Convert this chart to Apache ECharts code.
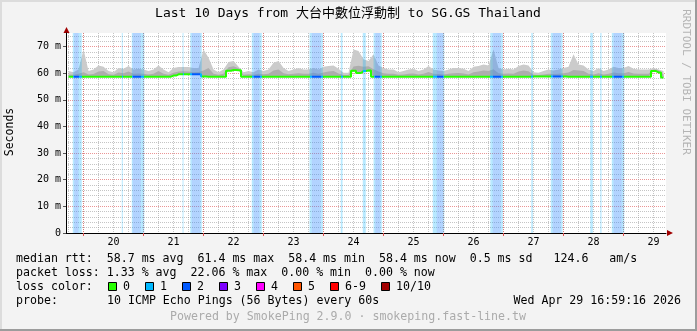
<!DOCTYPE html>
<html><head><meta charset="utf-8">
<script src="https://cdn.jsdelivr.net/npm/echarts@6/dist/echarts.min.js"></script>
<style>html,body{margin:0;padding:0;background:#f3f3f3}#c{width:697px;height:331px}</style>
</head><body><div id="c"></div>
<script>
// ---------- data ----------
const titleText = 'Last 10 Days from 大台中數位浮動制 to SG.GS Thailand';
const startHour = 16.988;          // Apr 19 16:59:16, hours since Apr 19 00:00
const endHour = 256.988;           // Apr 29 16:59:16
const sampleStart = 18;            // first 2-hour sample centre
const sampleStep = 2;
const dayLabelHours = [36, 60, 84, 108, 132, 156, 180, 204, 228, 252];
const dayLabels = ['20', '21', '22', '23', '24', '25', '26', '27', '28', '29'];
const midnightHours = [24, 48, 72, 96, 120, 144, 168, 192, 216, 240];
const sixHourHours = [18, 24, 30, 36, 42, 48, 54, 60, 66, 72, 78, 84, 90, 96, 102, 108, 114, 120, 126, 132, 138, 144, 150, 156, 162, 168, 174, 180, 186, 192, 198, 204, 210, 216, 222, 228, 234, 240, 246, 252];
const yMajorTicks = [0, 10, 20, 30, 40, 50, 60, 70];
const yMajorGrid = [10, 20, 30, 40, 50, 60, 70];
const yMinorGrid = [2, 4, 6, 8, 12, 14, 16, 18, 22, 24, 26, 28, 32, 34, 36, 38, 42, 44, 46, 48, 52, 54, 56, 58, 62, 64, 66, 68, 72, 74];
const yMax = 75.1;

// median RTT (ms), one value per 2 hours
const medianRtt = [
  58.7,58.7,58.7,58.7,58.7,58.7,58.7,58.7,58.7,58.7,58.7,58.7,58.7,58.7,58.7,58.7,58.7,58.7,58.7,58.7,
  58.7,59.1,59.6,59.6,59.6,59.6,59.6,58.8,58.7,58.7,58.7,58.7,60.9,61.2,61.1,58.7,58.7,58.7,58.7,58.7,
  58.7,58.7,58.7,58.7,58.7,58.7,58.7,58.7,58.7,58.7,58.7,58.7,58.7,58.7,58.7,58.7,58.7,60.9,60.1,60.8,
  61.0,58.7,58.7,58.7,58.7,58.7,58.7,58.7,58.7,58.7,58.7,58.7,58.7,58.7,58.7,58.7,58.7,58.7,58.7,58.7,
  58.7,58.7,58.7,58.7,58.7,58.7,58.7,58.7,58.7,58.7,58.7,58.7,58.7,58.8,58.8,58.8,58.8,58.8,58.8,58.8,
  58.7,58.7,58.7,58.7,58.7,58.7,58.7,58.7,58.7,58.7,58.7,58.7,58.7,58.7,58.7,58.7,58.7,60.8,60.3,58.4
];
// upper edge of the darker smoke (ms)
const smokeMid = [
  59.5,59.4,59.8,60.4,59.5,59.7,60.6,60.8,59.6,59.4,60.3,60.0,60.6,59.8,59.9,59.8,59.5,59.8,60.8,59.8,
  59.4,60.2,60.6,60.7,60.6,60.4,60.5,61.0,62.0,59.8,59.4,59.8,62.2,62.6,61.9,59.4,59.6,59.4,59.8,59.6,
  59.8,61.0,61.4,60.0,59.6,59.8,60.0,59.8,59.8,60.2,59.8,60.3,60.6,60.8,59.9,59.3,59.3,62.5,62.8,62.4,
  62.6,61.5,60.6,60.0,59.8,59.8,59.4,59.5,59.8,59.9,59.5,59.8,60.5,59.8,59.7,59.5,59.8,60.0,60.1,59.9,
  59.5,60.4,60.6,61.0,60.8,61.5,60.0,59.8,59.9,59.8,60.6,61.0,60.7,59.4,59.3,59.5,59.8,59.7,59.8,60.0,
  60.3,61.2,61.0,60.8,59.8,59.5,60.0,59.5,59.8,60.3,60.0,60.0,60.5,59.9,59.8,59.8,59.8,61.4,61.2,59.5
];
// max ping (top of smoke, ms)
const smokeMax = [
  60.8,60.4,61.4,68.9,60.8,61.4,62.9,62.4,60.8,60.4,62.0,61.7,62.7,61.4,61.7,61.4,60.8,61.4,62.9,61.4,
  60.4,62.0,62.3,62.3,62.3,62.0,62.0,68.9,65.8,61.4,60.4,61.4,64.2,64.6,62.4,60.4,60.8,60.4,61.4,60.8,
  61.4,63.9,64.6,62.0,60.8,61.4,62.0,61.4,61.4,62.0,61.4,62.4,62.7,62.9,61.7,60.2,60.2,68.9,68.3,65.2,
  64.6,67.1,62.9,62.0,61.4,61.4,60.4,60.8,61.4,61.7,60.8,61.4,62.7,61.4,61.0,60.8,61.4,62.0,62.0,61.7,
  60.8,62.4,62.7,63.3,62.9,68.9,62.0,61.4,61.7,61.4,62.7,63.3,62.9,60.4,60.2,60.8,61.4,61.0,61.4,62.0,
  62.4,67.1,63.3,62.9,61.4,60.8,62.0,60.8,61.4,62.4,62.0,62.0,62.7,61.7,61.4,61.4,61.4,62.0,61.4,60.8
];
// packet-loss periods (hours since Apr 19 00:00): light = 1 lost, strong = 2 lost
const lossLight = [
  [19.7,23.3],[39.3,39.7],[43.3,48.3],[63.6,64.0],[66.7,71.3],[91.3,95.3],[114.4,119.7],[126.9,127.6],
  [135.7,136.9],[140.0,143.3],[163.7,168.3],[186.7,191.7],[203.1,203.7],[210.9,215.6],[226.7,227.7],
  [230.7,231.2],[235.3,240.3]
];
const lossStrong = [
  [20.3,22.0],[43.7,46.9],[67.3,70.7],[92.0,94.4],[115.3,118.9],[140.7,142.7],[165.3,167.7],
  [187.7,190.9],[211.7,214.9],[236.0,239.3]
];
const lossLegend = [
  ['0', '#26ff00'], ['1', '#00b8ff'], ['2', '#0059ff'], ['3', '#7e00ff'],
  ['4', '#ff00ff'], ['5', '#ff5500'], ['6-9', '#ff0000'], ['10/10', '#a10000']
];
const statRtt = 'median rtt:  58.7 ms avg  61.4 ms max  58.4 ms min  58.4 ms now  0.5 ms sd   124.6   am/s';
const statLoss = 'packet loss: 1.33 % avg  22.06 % max  0.00 % min  0.00 % now';
const probeText = '10 ICMP Echo Pings (56 Bytes) every 60s';
const dateText = 'Wed Apr 29 16:59:16 2026';
const footerText = 'Powered by SmokePing 2.9.0 · smokeping.fast-line.tw';
const sideText = 'RRDTOOL / TOBI OETIKER';

// ---------- chart ----------
const MONO = '"DejaVu Sans Mono", "Noto Sans CJK TC", monospace';
const LF = '11.6px ' + MONO;
const xs = medianRtt.map((_, i) => sampleStart + i * sampleStep);
const medianPts = medianRtt.map((v, i) => [xs[i], v]);

// colour pieces for the median line along time
const pieces = [];
let cur = startHour - 1;
lossLight.forEach(([s, e]) => {
  pieces.push({ gte: cur, lt: s, color: '#26ff00' });
  let c = s;
  lossStrong.filter(([a, b]) => a >= s && b <= e).forEach(([a, b]) => {
    pieces.push({ gte: c, lt: a, color: '#00b8ff' });
    pieces.push({ gte: a, lt: b, color: '#0059ff' });
    c = b;
  });
  pieces.push({ gte: c, lt: e, color: '#00b8ff' });
  cur = e;
});
pieces.push({ gte: cur, lt: endHour + 10, color: '#26ff00' });

function bandRender(color) {
  return function (params, api) {
    const p0 = api.coord([api.value(0), yMax]);
    const p1 = api.coord([api.value(1), 0]);
    return {
      type: 'rect',
      shape: { x: p0[0], y: p0[1], width: Math.max(p1[0] - p0[0], 1), height: p1[1] - p0[1] },
      style: { fill: color }
    };
  };
}
function smokeRender(lower, upper, color) {
  return function (params, api) {
    const pts = [];
    for (let i = 0; i < xs.length; i++) pts.push(api.coord([xs[i], upper[i]]));
    for (let i = xs.length - 1; i >= 0; i--) pts.push(api.coord([xs[i], lower[i]]));
    return { type: 'polygon', shape: { points: pts }, style: { fill: color } };
  };
}

const hiddenX = (extra) => Object.assign({
  type: 'value', min: startHour, max: endHour, gridIndex: 0,
  axisLine: { show: false }, axisLabel: { show: false }
}, extra);
const hiddenY = (extra) => Object.assign({
  type: 'value', min: 0, max: yMax, gridIndex: 0,
  axisLine: { show: false }, axisLabel: { show: false }
}, extra);

const graphics = [
  { type: 'rect', shape: { x: 0, y: 0, width: 697, height: 2 }, style: { fill: '#dcdcdc' }, silent: true },
  { type: 'rect', shape: { x: 0, y: 0, width: 2, height: 331 }, style: { fill: '#dcdcdc' }, silent: true },
  { type: 'rect', shape: { x: 0, y: 329, width: 697, height: 2 }, style: { fill: '#9c9c9c' }, silent: true },
  { type: 'rect', shape: { x: 695, y: 0, width: 2, height: 331 }, style: { fill: '#9c9c9c' }, silent: true },
  { type: 'text', x: 348, y: 14, style: { text: titleText, font: '13px ' + MONO, fill: '#000', align: 'center', verticalAlign: 'middle' } },
  { type: 'text', x: 10, y: 132, rotation: Math.PI / 2, style: { text: 'Seconds', font: '11.5px ' + MONO, fill: '#000', align: 'center', verticalAlign: 'middle' } },
  { type: 'text', x: 686, y: 82, rotation: -Math.PI / 2, style: { text: sideText, font: '11px ' + MONO, fill: '#b4b4b4', align: 'center', verticalAlign: 'middle' } },
  { type: 'polygon', shape: { points: [[63.5, 33], [69.5, 33], [66.5, 27]] }, style: { fill: '#a00000' } },
  { type: 'polygon', shape: { points: [[667, 230], [667, 236], [673, 233]] }, style: { fill: '#a00000' } },
  { type: 'text', x: 16, y: 259, style: { text: statRtt, font: LF, fill: '#000', verticalAlign: 'middle' } },
  { type: 'text', x: 16, y: 273, style: { text: statLoss, font: LF, fill: '#000', verticalAlign: 'middle' } },
  { type: 'text', x: 16, y: 287, style: { text: 'loss color:', font: LF, fill: '#000', verticalAlign: 'middle' } },
  { type: 'text', x: 16, y: 301, style: { text: 'probe:', font: LF, fill: '#000', verticalAlign: 'middle' } },
  { type: 'text', x: 107, y: 301, style: { text: probeText, font: LF, fill: '#000', verticalAlign: 'middle' } },
  { type: 'text', x: 681, y: 301, style: { text: dateText, font: LF, fill: '#000', align: 'right', verticalAlign: 'middle' } },
  { type: 'text', x: 348, y: 317, style: { text: footerText, font: LF, fill: '#ababab', align: 'center', verticalAlign: 'middle' } }
];
let lx = 108;
lossLegend.forEach(([lab, col]) => {
  graphics.push({ type: 'rect', shape: { x: lx + 0.5, y: 282.5, width: 8, height: 8 }, style: { fill: col, stroke: '#000', lineWidth: 1 } });
  graphics.push({ type: 'text', x: lx + 15, y: 287, style: { text: lab, font: LF, fill: '#000', verticalAlign: 'middle' } });
  lx += 15 + 7 * lab.length + 15;
});

const option = {
  animation: false,
  backgroundColor: '#f3f3f3',
  grid: { left: 66, top: 33, width: 600, height: 200, show: true, backgroundColor: '#ffffff', borderWidth: 0, containLabel: false, outerBoundsMode: 'none' },
  xAxis: [
    {
      type: 'value', min: startHour, max: endHour,
      axisLine: { show: true, onZero: false, lineStyle: { color: '#000', width: 1 } },
      axisTick: { show: true, customValues: midnightHours, length: 3, lineStyle: { color: '#e05050' } },
      axisLabel: { customValues: dayLabelHours, margin: 4, color: '#000', fontFamily: MONO, fontSize: 10,
        formatter: v => dayLabels[dayLabelHours.indexOf(Math.round(v))] || '' },
      splitLine: { show: false }, z: 10
    },
    hiddenX({ axisTick: { show: false, customValues: sixHourHours },
      splitLine: { show: true, lineStyle: { color: 'rgba(150,150,150,0.55)', type: [1, 1], width: 1 } } }),
    hiddenX({ axisTick: { show: false, customValues: midnightHours },
      splitLine: { show: true, lineStyle: { color: 'rgba(222,79,79,0.6)', type: [1, 1], width: 1 } } })
  ],
  yAxis: [
    {
      type: 'value', min: 0, max: yMax,
      axisLine: { show: true, onZero: false, lineStyle: { color: '#000', width: 1 } },
      axisTick: { show: true, customValues: yMajorTicks, length: 3, lineStyle: { color: '#555' } },
      axisLabel: { customValues: yMajorTicks, margin: 5, color: '#000', fontFamily: MONO, fontSize: 10,
        formatter: v => (v === 0 ? '0' : Math.round(v) + ' m') },
      splitLine: { show: false }, z: 10
    },
    hiddenY({ axisTick: { show: false, customValues: yMinorGrid },
      splitLine: { show: true, lineStyle: { color: 'rgba(150,150,150,0.55)', type: [1, 1], width: 1 } } }),
    hiddenY({ axisTick: { show: false, customValues: yMajorGrid },
      splitLine: { show: true, lineStyle: { color: 'rgba(222,79,79,0.6)', type: [1, 1], width: 1 } } })
  ],
  visualMap: {
    type: 'piecewise', show: false, dimension: 0, seriesIndex: 2, pieces: pieces
  },
  series: [
    { type: 'custom', data: [[xs[0], medianRtt[0]]], encode: { x: 0, y: 1 },
      renderItem: smokeRender(medianRtt, smokeMax, '#cbcbcb'), clip: true, silent: true, z: 2 },
    { type: 'custom', data: [[xs[0], medianRtt[0]]], encode: { x: 0, y: 1 },
      renderItem: smokeRender(medianRtt, smokeMid, '#adadad'), clip: true, silent: true, z: 3 },
    { type: 'line', data: medianPts, step: 'middle', showSymbol: false, silent: true,
      lineStyle: { width: 2 }, z: 6 },
    { type: 'custom', data: lossLight, renderItem: bandRender('rgba(0,175,255,0.28)'),
      encode: { x: [0, 1] }, clip: true, silent: true, z: 4 },
    { type: 'custom', data: lossStrong, renderItem: bandRender('rgba(140,60,255,0.12)'),
      encode: { x: [0, 1] }, clip: true, silent: true, z: 4 }
  ],
  graphic: graphics
};
const chart = echarts.init(document.getElementById('c'));
chart.setOption(option);
</script></body></html>
